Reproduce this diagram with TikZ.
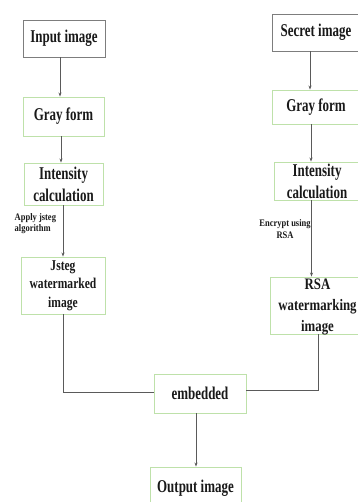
\documentclass[tikz,border=0pt]{standalone}
\usepackage{fontspec}
\setmainfont{Liberation Serif}
\usepackage{graphicx}
\usetikzlibrary{arrows.meta}
\newcommand\hs[2][0.72]{\scalebox{#1}[1]{#2}}
\definecolor{boxgreen}{RGB}{190,225,170}
\definecolor{boxgray}{RGB}{125,125,125}
\definecolor{linegray}{RGB}{90,90,90}
\definecolor{txt}{RGB}{25,25,25}
\begin{document}
\begin{tikzpicture}[x=1pt,y=-1pt,
  gbox/.style={draw=boxgreen,line width=0.9pt,inner sep=0pt,align=center,text=txt,
    font=\bfseries\fontsize{18}{22}\selectfont},
  kbox/.style={gbox,draw=boxgray},
  lbl/.style={inner sep=0pt,text=txt,font=\bfseries\fontsize{10}{11.5}\selectfont},
  conn/.style={draw=linegray,line width=0.6pt},
  arr/.style={conn,-{Stealth[length=4pt,width=3pt]}}]
\useasboundingbox (0,0) rectangle (357,502);
% left column
\node[kbox,minimum width=82pt,minimum height=37pt] (in) at (64,38.5) {\hs{Input image}};
\node[gbox,minimum width=81pt,minimum height=39pt] (g1) at (63.5,116.5) {\hs{Gray form}};
\node[gbox,minimum width=79pt,minimum height=42pt] (i1) at (63.5,184) {\hs{Intensity}\\\hs{calculation}};
\node[gbox,minimum width=84pt,minimum height=57pt,font=\bfseries\fontsize{15}{18.5}\selectfont] (j) at (63,285.5) {\hs[0.77]{Jsteg}\\\hs[0.77]{watermarked}\\\hs[0.77]{image}};
% right column
\node[kbox,minimum width=88pt,minimum height=37pt] (s) at (316,32.5) {\hs{Secret image}};
\node[gbox,minimum width=88pt,minimum height=34pt] (g2) at (316,107) {\hs{Gray form}};
\node[gbox,minimum width=86pt,minimum height=38pt] (i2) at (317,181) {\hs{Intensity}\\\hs{calculation}};
\node[gbox,minimum width=90pt,minimum height=57pt] (r) at (315,305.5) {};
\node[inner sep=0pt,align=center,text=txt,font=\bfseries\fontsize{16}{21}\selectfont] (rt) at (317.5,307) {\hs[0.8]{RSA}\\\hs[0.8]{watermarking}\\\hs[0.8]{image}};
% bottom
\node[gbox,minimum width=92pt,minimum height=39pt] (e) at (200,393.5) {\hs{embedded}};
\node[gbox,minimum width=91pt,minimum height=43pt] (o) at (195.5,488.5) {\hs{Output image}};
% labels
\node[lbl,anchor=north west,align=left] (la) at (14.5,213) {\hs[0.85]{Apply jsteg}\\\hs[0.85]{algorithm}};
\node[lbl,align=center] (lb) at (285,229) {\hs[0.85]{Encrypt using}\\\hs[0.85]{RSA}};
% connectors
\draw[arr] ([xshift=-4pt]in.south) -- ([xshift=-4pt]in.south |- g1.north);
\draw[arr] ([xshift=-2.5pt]g1.south) -- ([xshift=-2.5pt]g1.south |- i1.north);
\draw[arr] ([xshift=-0.5pt]i1.south) -- ([xshift=-0.5pt]i1.south |- j.north);
\draw[arr] ([xshift=-6pt]s.south) -- ([xshift=-6pt]s.south |- g2.north);
\draw[arr] ([xshift=-5pt]g2.south) -- ([xshift=-5pt]g2.south |- i2.north);
\draw[arr] ([xshift=-5.5pt]i2.south) -- ([xshift=-5.5pt]i2.south |- r.north);
\coordinate (jc) at (63,392);
\coordinate (rc) at (318,390);
\draw[conn] (j.south) -- (jc) -- (jc -| e.west);
\draw[conn] ([xshift=3pt]r.south) -- (rc) -- (rc -| e.east);
\draw[arr] ([xshift=-4pt]e.south) -- ([xshift=-4pt]e.south |- o.north);
\end{tikzpicture}
\end{document}
